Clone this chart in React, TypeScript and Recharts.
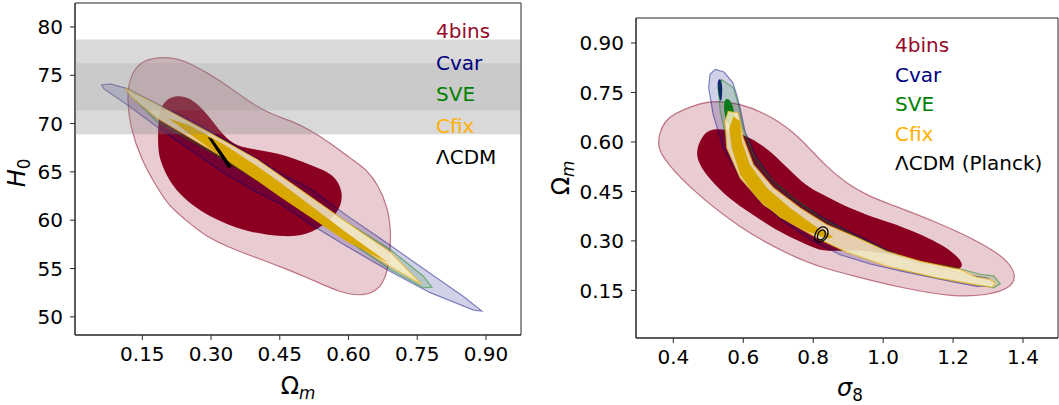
import { Legend, ReferenceArea, Scatter, ScatterChart, XAxis, YAxis } from "recharts";

const FONT = '"DejaVu Sans", sans-serif';
const AXIS = "#262626";

type Pt = [number, number];

// ---- left panel: Omega_m vs H0 ----
const OM_TICKS = [0.15, 0.3, 0.45, 0.6, 0.75, 0.9];
const H0_TICKS = [50, 55, 60, 65, 70, 75, 80];
const OM_DOMAIN: [number, number] = [0.0031, 0.9764];
const H0_DOMAIN: [number, number] = [48.12, 82.48];
const H0_BAND_2S: [number, number] = [68.9, 78.7];
const H0_BAND_1S: [number, number] = [71.35, 76.25];

const H0_4BINS_2S: Pt[] = [
  [0.185, 76.9], [0.225, 76.75], [0.254, 76.25], [0.29, 75.3], [0.327, 74.2], [0.365, 72.9],
  [0.4, 71.75], [0.44, 70.8], [0.4725, 70.35], [0.516, 69.35], [0.56, 68.0], [0.607, 66.3],
  [0.64, 65.2], [0.662, 63.85], [0.686, 61.4], [0.693, 58.7], [0.69, 56.5], [0.686, 54.9],
  [0.671, 52.9], [0.633, 52.1], [0.582, 52.5], [0.523, 53.8], [0.451, 55.2], [0.4, 56.1],
  [0.36, 56.8], [0.29, 58.2], [0.238, 60.3], [0.21, 61.4], [0.183, 63.3], [0.148, 66.2],
  [0.123, 69.7], [0.117, 72.46], [0.121, 74.6], [0.143, 76.4],
];
const H0_4BINS_1S: Pt[] = [
  [0.221, 72.97], [0.254, 72.75], [0.291, 71.1], [0.327, 68.7], [0.356, 67.65], [0.4, 67.3],
  [0.443, 66.95], [0.487, 66.3], [0.516, 65.75], [0.545, 65.2], [0.574, 64.4], [0.589, 62.7],
  [0.58, 61.0], [0.553, 59.7], [0.51, 58.45], [0.458, 58.25], [0.383, 58.75], [0.323, 59.8],
  [0.275, 61.0], [0.24, 62.3], [0.21, 63.9], [0.19, 66.0], [0.184, 67.3], [0.184, 70.05],
  [0.192, 72.2],
];
const H0_CVAR_2S: Pt[] = [
  [0.0614, 74.0], [0.08, 74.1], [0.116, 73.65], [0.18, 72.1], [0.254, 70.4], [0.3, 69.2],
  [0.4, 66.4], [0.451, 64.85], [0.516, 63.3], [0.596, 60.5], [0.691, 57.4], [0.778, 54.5],
  [0.851, 52.1], [0.891, 50.6], [0.873, 50.7], [0.778, 52.5], [0.691, 54.7], [0.596, 57.3],
  [0.523, 59.4], [0.451, 61.7], [0.4, 62.9], [0.327, 64.9], [0.254, 67.3], [0.181, 69.7],
  [0.123, 71.75], [0.066, 73.6],
];
const H0_SVE_2S: Pt[] = [
  [0.116, 73.55], [0.2177, 70.85], [0.327, 68.3], [0.451, 64.5], [0.596, 59.8], [0.691, 56.96],
  [0.7636, 54.2], [0.782, 53.06], [0.7636, 53.0], [0.691, 54.89], [0.596, 57.99], [0.451, 62.64],
  [0.327, 66.3], [0.181, 70.25], [0.125, 72.9],
];
const H0_CFIX_2S: Pt[] = [
  [0.1122, 73.67], [0.181, 72.0], [0.291, 69.2], [0.4, 66.3], [0.596, 59.8], [0.691, 56.7],
  [0.76, 53.34], [0.691, 55.2], [0.596, 58.1], [0.4725, 62.6], [0.327, 66.5], [0.181, 70.6],
  [0.125, 72.8],
];
const H0_CFIX_1S: Pt[] = [
  [0.2068, 70.56], [0.254, 69.8], [0.327, 67.9], [0.4, 65.6], [0.451, 63.9], [0.596, 58.7],
  [0.687, 55.6], [0.596, 57.8], [0.451, 62.4], [0.4, 64.1], [0.327, 66.4], [0.254, 68.9],
];
const H0_LCDM: Pt[] = [[0.297, 68.45], [0.302, 68.35], [0.343, 65.6], [0.338, 65.5]];

// ---- right panel: sigma_8 vs Omega_m ----
const S8_TICKS = [0.4, 0.6, 0.8, 1.0, 1.2, 1.4];
const OMR_TICKS = [0.15, 0.3, 0.45, 0.6, 0.75, 0.9];
const S8_DOMAIN: [number, number] = [0.2933, 1.5];
const OMR_DOMAIN: [number, number] = [0.0057, 0.9758];

const S8_4BINS_2S: Pt[] = [
  [0.357, 0.617], [0.378, 0.675], [0.448, 0.706], [0.496, 0.725], [0.591, 0.72], [0.686, 0.675],
  [0.7625, 0.614], [0.829, 0.533], [0.896, 0.473], [0.963, 0.434], [1.011, 0.415], [1.154, 0.357],
  [1.278, 0.296], [1.354, 0.245], [1.383, 0.193], [1.363, 0.156], [1.297, 0.135], [1.201, 0.13],
  [1.058, 0.156], [0.915, 0.194], [0.82, 0.22], [0.734, 0.256], [0.591, 0.337], [0.448, 0.459],
  [0.378, 0.541], [0.357, 0.58],
];
const S8_4BINS_1S: Pt[] = [
  [0.465, 0.577], [0.486, 0.625], [0.51, 0.64], [0.55, 0.638], [0.6, 0.624], [0.667, 0.584],
  [0.7245, 0.523], [0.782, 0.465], [0.82, 0.445], [0.877, 0.412], [0.963, 0.374], [1.011, 0.36],
  [1.154, 0.301], [1.222, 0.247], [1.23, 0.218], [1.2, 0.21], [1.106, 0.24], [1.011, 0.262],
  [0.915, 0.275], [0.83, 0.265], [0.78, 0.29], [0.705, 0.325], [0.62, 0.385], [0.562, 0.425],
  [0.5, 0.49], [0.47, 0.54],
];
const S8_CVAR_2S: Pt[] = [
  [0.52, 0.82], [0.545, 0.812], [0.57, 0.78], [0.582, 0.74], [0.591, 0.703], [0.605, 0.632],
  [0.639, 0.552], [0.686, 0.481], [0.753, 0.42], [0.829, 0.37], [0.915, 0.322], [0.963, 0.298],
  [1.011, 0.272], [1.058, 0.247], [1.154, 0.22], [1.249, 0.196], [1.3, 0.187], [1.311, 0.175],
  [1.3, 0.163], [1.268, 0.162], [1.2, 0.176], [1.058, 0.207], [0.963, 0.23], [0.877, 0.258],
  [0.8, 0.299], [0.715, 0.359], [0.648, 0.42], [0.591, 0.491], [0.543, 0.582], [0.514, 0.683],
  [0.501, 0.764], [0.505, 0.805],
];
const S8_CVAR_1S: Pt[] = [
  [0.527, 0.79], [0.537, 0.793], [0.541, 0.76], [0.538, 0.72], [0.532, 0.728], [0.526, 0.76],
];
const S8_SVE_2S: Pt[] = [
  [0.538, 0.789], [0.572, 0.764], [0.586, 0.713], [0.6, 0.642], [0.629, 0.562], [0.677, 0.491],
  [0.743, 0.43], [0.82, 0.372], [0.915, 0.318], [1.011, 0.27], [1.106, 0.236], [1.201, 0.221],
  [1.278, 0.199], [1.316, 0.194], [1.335, 0.17], [1.316, 0.158], [1.249, 0.172], [1.154, 0.188],
  [1.058, 0.212], [0.963, 0.243], [0.896, 0.269], [0.81, 0.314], [0.734, 0.37], [0.658, 0.43],
  [0.591, 0.511], [0.553, 0.602], [0.534, 0.693], [0.529, 0.764],
];
const S8_SVE_1S: Pt[] = [
  [0.545, 0.735], [0.565, 0.728], [0.576, 0.69], [0.573, 0.65], [0.556, 0.645], [0.544, 0.69],
];
const S8_CFIX_2S: Pt[] = [
  [0.557, 0.693], [0.585, 0.688], [0.6, 0.612], [0.629, 0.531], [0.686, 0.461], [0.7625, 0.4],
  [0.839, 0.349], [0.925, 0.31], [1.011, 0.268], [1.106, 0.238], [1.22, 0.213], [1.268, 0.19],
  [1.306, 0.183], [1.32, 0.172], [1.311, 0.16], [1.268, 0.167], [1.154, 0.188], [1.011, 0.223],
  [0.896, 0.266], [0.82, 0.304], [0.734, 0.355], [0.658, 0.41], [0.591, 0.491], [0.553, 0.582],
  [0.548, 0.662],
];
const S8_CFIX_1S: Pt[] = [
  [0.572, 0.678], [0.591, 0.662], [0.596, 0.602], [0.619, 0.531], [0.667, 0.461], [0.734, 0.4],
  [0.8, 0.349], [0.858, 0.311], [0.839, 0.307], [0.782, 0.329], [0.705, 0.37], [0.639, 0.43],
  [0.591, 0.501], [0.567, 0.582], [0.56, 0.642],
];
const S8_LCDM_2S: Pt[] = [
  [0.802, 0.305], [0.806, 0.326], [0.818, 0.341], [0.834, 0.344], [0.844, 0.333], [0.841, 0.312],
  [0.829, 0.298], [0.813, 0.296],
];
const S8_LCDM_1S: Pt[] = [
  [0.811, 0.31], [0.814, 0.325], [0.823, 0.334], [0.832, 0.333], [0.836, 0.324], [0.833, 0.31],
  [0.825, 0.303], [0.815, 0.303],
];

const LEGEND_LEFT = ["4bins", "Cvar", "SVE", "Cfix", "ΛCDM"];
const LEGEND_RIGHT = ["4bins", "Cvar", "SVE", "Cfix", "ΛCDM (Planck)"];
const LEGEND_COLORS = ["#960a2c", "#000080", "#008000", "#ffb000", "#000000"];

type Style = {
  fill: string;
  fillOpacity?: number;
  stroke?: string;
  strokeOpacity?: number;
  strokeWidth?: number;
  curve: "basisClosed" | "linearClosed";
};

const S_4BINS_2S: Style = { fill: "#8b0020", fillOpacity: 0.2, stroke: "#8b0020", strokeOpacity: 0.5, curve: "basisClosed" };
const S_4BINS_1S: Style = { fill: "#8b0020", curve: "basisClosed" };
const S_CVAR_2S: Style = { fill: "#000080", fillOpacity: 0.18, stroke: "#000080", strokeOpacity: 0.45, curve: "linearClosed" };
const S_CVAR_1S: Style = { fill: "#101a80", curve: "basisClosed" };
const S_SVE_2S: Style = { fill: "#008000", fillOpacity: 0.14, stroke: "#008000", strokeOpacity: 0.45, curve: "linearClosed" };
const S_SVE_1S: Style = { fill: "#0a7a1a", curve: "basisClosed" };
const S_CFIX_2S: Style = { fill: "#fbf0c6", fillOpacity: 0.85, stroke: "#f5b820", strokeOpacity: 0.7, curve: "linearClosed" };
const S_CFIX_1S: Style = { fill: "#d9a800", curve: "linearClosed" };
const S_LCDM_FILL: Style = { fill: "#000", stroke: "#000", strokeWidth: 1.5, curve: "linearClosed" };
const S_LCDM_LINE: Style = { fill: "none", stroke: "#000", strokeWidth: 1.3, curve: "basisClosed" };
const S_BAND_2S: Style = { fill: "#808080", fillOpacity: 0.3, strokeWidth: 0, curve: "linearClosed" };
const S_BAND_1S: Style = { fill: "#808080", fillOpacity: 0.17, strokeWidth: 0, curve: "linearClosed" };

const tickStyle = { fill: "#000", fontSize: 20, fontFamily: FONT };
const NoDot = () => <g />;

// horizontal band spanning the whole x range, as a closed polygon in data space
const band = (xd: [number, number], yb: [number, number]): Pt[] => [
  [xd[0], yb[0]], [xd[1], yb[0]], [xd[1], yb[1]], [xd[0], yb[1]],
];

function contour(key: string, pts: Pt[], s: Style) {
  return (
    <Scatter
      key={key}
      data={pts.map(([x, y]) => ({ x, y }))}
      fill="none"
      shape={NoDot}
      line={{
        fill: s.fill,
        fillOpacity: s.fillOpacity ?? 1,
        stroke: s.stroke ?? "none",
        strokeOpacity: s.strokeOpacity ?? 1,
        strokeWidth: s.strokeWidth ?? 1.2,
      }}
      lineType="joint"
      lineJointType={s.curve}
      legendType="none"
      isAnimationActive={false}
    />
  );
}

function LegendList({ labels, lineHeight }: { labels: string[]; lineHeight: number }) {
  return (
    <div style={{ fontFamily: FONT, fontSize: 20 }}>
      {labels.map((l, i) => (
        <div key={l} style={{ color: LEGEND_COLORS[i], lineHeight: `${lineHeight}px`, whiteSpace: "nowrap" }}>
          {l}
        </div>
      ))}
    </div>
  );
}

function AxisTitle({ x, y, rotate, children }: { x: number; y: number; rotate?: boolean; children: React.ReactNode }) {
  return (
    <div
      style={{
        position: "absolute",
        left: x,
        top: y,
        transform: `translate(-50%, -50%)${rotate ? " rotate(-90deg)" : ""}`,
        fontSize: 24,
        fontFamily: FONT,
        lineHeight: 1,
        whiteSpace: "nowrap",
        color: "#000",
      }}
    >
      {children}
    </div>
  );
}

const sub = (t: string, italic = false) => (
  <span style={{ fontSize: "0.7em", position: "relative", top: "0.28em", fontStyle: italic ? "italic" : "normal" }}>{t}</span>
);

export default function App() {
  return (
    <div style={{ position: "absolute", left: 0, top: 0, width: 1059, height: 405, background: "#fff", overflow: "hidden" }}>
      <div style={{ position: "absolute", left: 0, top: 0 }}>
        <ScatterChart width={530} height={405} margin={{ top: 3, right: 9, bottom: 0, left: 0 }}>
          <XAxis
            type="number"
            dataKey="x"
            domain={OM_DOMAIN}
            allowDataOverflow
            ticks={OM_TICKS}
            interval={0}
            tickFormatter={(v: number) => v.toFixed(2)}
            tick={tickStyle}
            tickSize={5}
            tickMargin={7}
            height={70}
            axisLine={{ stroke: AXIS }}
            tickLine={{ stroke: AXIS }}
          />
          <YAxis
            type="number"
            dataKey="y"
            domain={H0_DOMAIN}
            allowDataOverflow
            ticks={H0_TICKS}
            interval={0}
            tick={tickStyle}
            tickSize={5}
            tickMargin={7}
            width={75}
            axisLine={{ stroke: AXIS }}
            tickLine={{ stroke: AXIS }}
          />
          <ReferenceArea x1={OM_DOMAIN[0]} x2={OM_DOMAIN[1]} y1={H0_DOMAIN[0]} y2={H0_DOMAIN[1]} fill="none" stroke={AXIS} strokeWidth={1} ifOverflow="visible" />
          {contour("l4b2", H0_4BINS_2S, S_4BINS_2S)}
          {contour("l4b1", H0_4BINS_1S, S_4BINS_1S)}
          {contour("lcv2", H0_CVAR_2S, S_CVAR_2S)}
          {contour("lsv2", H0_SVE_2S, S_SVE_2S)}
          {contour("lcf2", H0_CFIX_2S, S_CFIX_2S)}
          {contour("lcf1", H0_CFIX_1S, S_CFIX_1S)}
          {contour("llcdm", H0_LCDM, S_LCDM_FILL)}
          {contour("lband2", band(OM_DOMAIN, H0_BAND_2S), S_BAND_2S)}
          {contour("lband1", band(OM_DOMAIN, H0_BAND_1S), S_BAND_1S)}
          <Legend
            layout="vertical"
            align="center"
            verticalAlign="middle"
            wrapperStyle={{ left: 436, top: 16, width: 90, height: 160 }}
            content={() => <LegendList labels={LEGEND_LEFT} lineHeight={31.5} />}
          />
        </ScatterChart>
      </div>

      <div style={{ position: "absolute", left: 530, top: 0 }}>
        <ScatterChart width={529} height={405} margin={{ top: 18, right: 1, bottom: 0, left: 0 }}>
          <XAxis
            type="number"
            dataKey="x"
            domain={S8_DOMAIN}
            allowDataOverflow
            ticks={S8_TICKS}
            interval={0}
            tickFormatter={(v: number) => v.toFixed(1)}
            tick={tickStyle}
            tickSize={5}
            tickMargin={7}
            height={67}
            axisLine={{ stroke: AXIS }}
            tickLine={{ stroke: AXIS }}
          />
          <YAxis
            type="number"
            dataKey="y"
            domain={OMR_DOMAIN}
            allowDataOverflow
            ticks={OMR_TICKS}
            interval={0}
            tickFormatter={(v: number) => v.toFixed(2)}
            tick={tickStyle}
            tickSize={5}
            tickMargin={7}
            width={106}
            axisLine={{ stroke: AXIS }}
            tickLine={{ stroke: AXIS }}
          />
          <ReferenceArea x1={S8_DOMAIN[0]} x2={S8_DOMAIN[1]} y1={OMR_DOMAIN[0]} y2={OMR_DOMAIN[1]} fill="none" stroke={AXIS} strokeWidth={1} ifOverflow="visible" />
          {contour("r4b2", S8_4BINS_2S, S_4BINS_2S)}
          {contour("r4b1", S8_4BINS_1S, S_4BINS_1S)}
          {contour("rcv2", S8_CVAR_2S, S_CVAR_2S)}
          {contour("rcv1", S8_CVAR_1S, S_CVAR_1S)}
          {contour("rsv2", S8_SVE_2S, S_SVE_2S)}
          {contour("rsv1", S8_SVE_1S, S_SVE_1S)}
          {contour("rcf2", S8_CFIX_2S, S_CFIX_2S)}
          {contour("rcf1", S8_CFIX_1S, S_CFIX_1S)}
          {contour("rlc2", S8_LCDM_2S, S_LCDM_LINE)}
          {contour("rlc1", S8_LCDM_1S, S_LCDM_LINE)}
          <Legend
            layout="vertical"
            align="center"
            verticalAlign="middle"
            wrapperStyle={{ left: 365, top: 31, width: 160, height: 150 }}
            content={() => <LegendList labels={LEGEND_RIGHT} lineHeight={29.6} />}
          />
        </ScatterChart>
      </div>

      <AxisTitle x={17} y={173} rotate>
        <i>H</i>
        {sub("0")}
      </AxisTitle>
      <AxisTitle x={298} y={386}>
        Ω{sub("m", true)}
      </AxisTitle>
      <AxisTitle x={561} y={178} rotate>
        Ω{sub("m", true)}
      </AxisTitle>
      <AxisTitle x={850} y={388}>
        <i>σ</i>
        {sub("8")}
      </AxisTitle>
    </div>
  );
}
